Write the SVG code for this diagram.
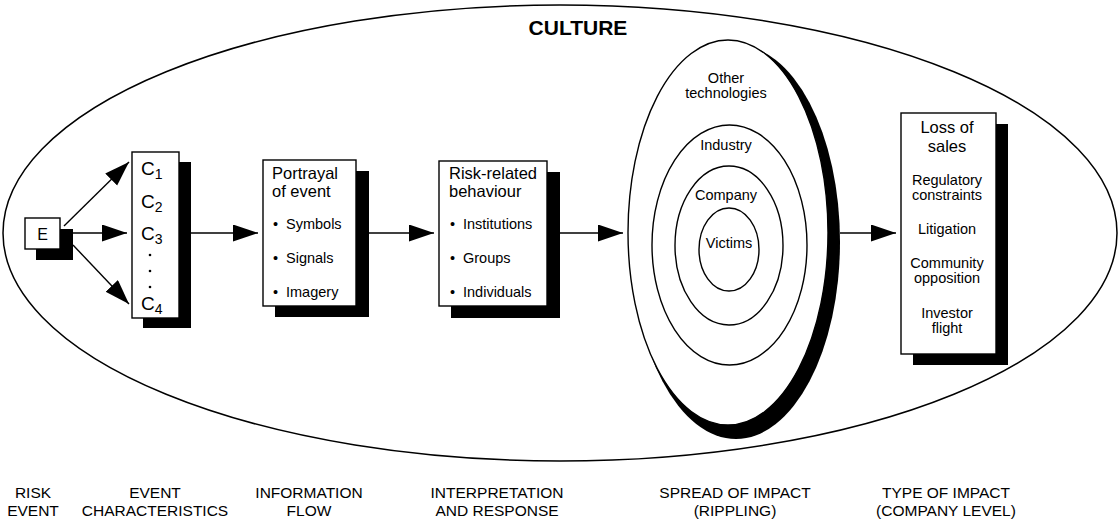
<svg xmlns="http://www.w3.org/2000/svg" width="1119" height="523" viewBox="0 0 1119 523">
  <defs>
    <marker id="head" markerUnits="userSpaceOnUse" markerWidth="26" markerHeight="18" refX="25" refY="8.5" orient="auto">
      <path d="M0,0 L25,8.5 L0,17 z" fill="#000"/>
    </marker>
  </defs>
  <style>
    text { font-family: "Liberation Sans", Arial, sans-serif; fill: #000; }
    .box { fill: #fff; stroke: #000; stroke-width: 1.4; }
    .shadow { fill: #000; }
    .ring { fill: #fff; stroke: #000; stroke-width: 1.4; }
    .head { font-size: 16.5px; }
    .item { font-size: 14.5px; }
    .mid { text-anchor: middle; }
    .stage { font-size: 15.5px; text-anchor: middle; }
    .conn line { stroke: #000; stroke-width: 1.4; marker-end: url(#head); }
  </style>

  <rect width="1119" height="523" fill="#fff"/>

  <!-- culture boundary -->
  <g id="culture">
    <ellipse cx="560" cy="233" rx="557" ry="228" fill="none" stroke="#000" stroke-width="1.5"/>
    <text x="578" y="35" font-size="21" font-weight="bold" text-anchor="middle">CULTURE</text>
  </g>

  <!-- risk event -->
  <g id="risk-event">
    <rect class="shadow" x="36" y="229" width="37" height="31"/>
    <rect class="box" x="25" y="218" width="35" height="31"/>
    <text x="42.5" y="240" font-size="16" text-anchor="middle">E</text>
  </g>

  <!-- event characteristics -->
  <g id="characteristics">
    <rect class="shadow" x="143" y="162" width="48" height="166"/>
    <rect class="box" x="132" y="152" width="47" height="166"/>
    <text x="141" y="175" font-size="19">C<tspan font-size="14" dy="4">1</tspan></text>
    <text x="141" y="208" font-size="19">C<tspan font-size="14" dy="4">2</tspan></text>
    <text x="141" y="240" font-size="19">C<tspan font-size="14" dy="4">3</tspan></text>
    <circle cx="150" cy="255" r="1.3"/>
    <circle cx="150" cy="271" r="1.3"/>
    <circle cx="150" cy="287" r="1.3"/>
    <text x="141" y="310" font-size="19">C<tspan font-size="14" dy="4">4</tspan></text>
  </g>

  <!-- information flow -->
  <g id="portrayal">
    <rect class="shadow" x="275" y="171" width="94" height="146"/>
    <rect class="box" x="263" y="160" width="93" height="146"/>
    <text class="head" x="272" y="179">Portrayal</text>
    <text class="head" x="272" y="197">of event</text>
    <text class="item" x="273" y="229">•</text>
    <text class="item" x="286" y="229">Symbols</text>
    <text class="item" x="273" y="263">•</text>
    <text class="item" x="286" y="263">Signals</text>
    <text class="item" x="273" y="297">•</text>
    <text class="item" x="286" y="297">Imagery</text>
  </g>

  <!-- interpretation and response -->
  <g id="behaviour">
    <rect class="shadow" x="451" y="172" width="109" height="146"/>
    <rect class="box" x="439" y="161" width="108" height="145"/>
    <text class="head" x="449" y="179">Risk-related</text>
    <text class="head" x="449" y="197">behaviour</text>
    <text class="item" x="450" y="229">•</text>
    <text class="item" x="463" y="229">Institutions</text>
    <text class="item" x="450" y="263">•</text>
    <text class="item" x="463" y="263">Groups</text>
    <text class="item" x="450" y="297">•</text>
    <text class="item" x="463" y="297">Individuals</text>
  </g>

  <!-- spread of impact -->
  <g id="ripple">
    <ellipse class="shadow" cx="736" cy="242" rx="104" ry="197"/>
    <ellipse class="ring" cx="728" cy="232.5" rx="100" ry="192.5"/>
    <ellipse class="ring" cx="729.5" cy="245" rx="77.5" ry="120"/>
    <ellipse class="ring" cx="729" cy="245.5" rx="54" ry="79.5"/>
    <ellipse class="ring" cx="729" cy="249.5" rx="30" ry="41.5"/>
    <text class="item mid" x="726" y="83">Other</text>
    <text class="item mid" x="726" y="98">technologies</text>
    <text class="item mid" x="726" y="150">Industry</text>
    <text class="item mid" x="726" y="200">Company</text>
    <text class="item mid" x="729" y="248">Victims</text>
  </g>

  <!-- type of impact -->
  <g id="impact">
    <rect class="shadow" x="913" y="124" width="95" height="241"/>
    <rect class="box" x="901" y="113" width="95" height="241"/>
    <text class="head mid" x="947" y="133">Loss of</text>
    <text class="head mid" x="947" y="152">sales</text>
    <text class="item mid" x="947" y="185">Regulatory</text>
    <text class="item mid" x="947" y="200">constraints</text>
    <text class="item mid" x="947" y="234">Litigation</text>
    <text class="item mid" x="947" y="268">Community</text>
    <text class="item mid" x="947" y="283">opposition</text>
    <text class="item mid" x="947" y="318">Investor</text>
    <text class="item mid" x="947" y="333">flight</text>
  </g>

  <!-- connectors -->
  <g id="connectors" class="conn">
    <line x1="64" y1="226" x2="129" y2="162"/>
    <line x1="73" y1="233" x2="127" y2="233"/>
    <line x1="73" y1="245" x2="129" y2="304"/>
    <line x1="191" y1="233" x2="258" y2="233"/>
    <line x1="369" y1="233" x2="434" y2="233"/>
    <line x1="560" y1="233" x2="623" y2="233"/>
    <line x1="840" y1="233" x2="896" y2="233"/>
  </g>

  <!-- stage captions -->
  <g id="captions">
    <text class="stage" x="33" y="498">RISK</text>
    <text class="stage" x="33" y="516">EVENT</text>
    <text class="stage" x="155" y="498">EVENT</text>
    <text class="stage" x="155" y="516">CHARACTERISTICS</text>
    <text class="stage" x="309" y="498">INFORMATION</text>
    <text class="stage" x="309" y="516">FLOW</text>
    <text class="stage" x="497" y="498">INTERPRETATION</text>
    <text class="stage" x="497" y="516">AND RESPONSE</text>
    <text class="stage" x="735" y="498">SPREAD OF IMPACT</text>
    <text class="stage" x="735" y="516">(RIPPLING)</text>
    <text class="stage" x="946" y="498">TYPE OF IMPACT</text>
    <text class="stage" x="946" y="516">(COMPANY LEVEL)</text>
  </g>
</svg>
